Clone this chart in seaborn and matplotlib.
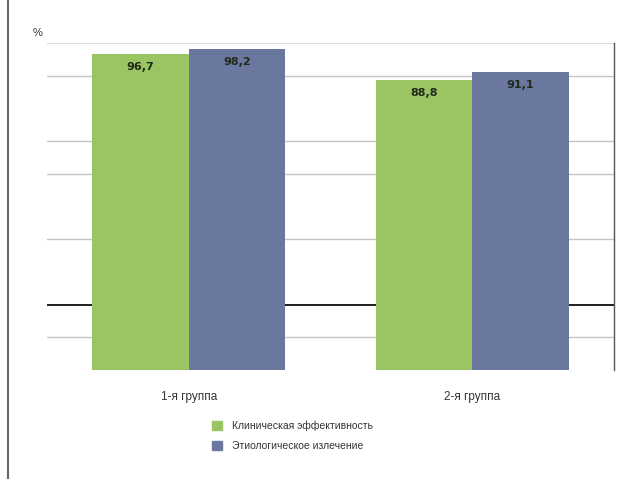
import matplotlib
matplotlib.use("Agg")
import matplotlib.pyplot as plt
from matplotlib.lines import Line2D
import seaborn as sns
import pandas as pd

# Chart data
groups = ["1-я группа", "2-я группа"]
series = ["Клиническая эффективность", "Этиологическое излечение"]
clinical = [96.7, 88.8]
etiological = [98.2, 91.1]
grid_levels = [10, 40, 60, 70, 90]
top_level = 100
base_level = 20

colors = ["#9bc463", "#6a779f"]

df = pd.DataFrame({
    "group": groups * 2,
    "series": [series[0]] * 2 + [series[1]] * 2,
    "value": clinical + etiological,
})

sns.set_theme(style="white")
plt.rcParams["font.family"] = ["Liberation Sans", "DejaVu Sans"]

fig = plt.figure(figsize=(6.3, 4.79), dpi=100)
ax = fig.add_axes([47 / 630, 1 - 370 / 479, 567 / 630, 327 / 479])

for lvl in grid_levels:
    ax.axhline(lvl, color="#c4c4c4", lw=1.0, zorder=0)
ax.axhline(top_level, color="#dcdcdc", lw=1.0, zorder=0)
ax.axhline(base_level, color="#1e1e1e", lw=1.4, zorder=0)

sns.barplot(data=df, x="group", y="value", hue="series", order=groups,
            hue_order=series, palette=colors, width=0.68, saturation=1,
            ax=ax, legend=False, zorder=2, linewidth=0)

ax.set_ylim(0, 100)
ax.set_xlim(-0.5, 1.5)
ax.set_yticks([])
ax.set_xlabel("")
ax.set_ylabel("")
ax.tick_params(axis="x", length=0, pad=15, labelsize=8.5, labelcolor="#333333")

for sp in ["top", "left", "bottom"]:
    ax.spines[sp].set_visible(False)
ax.spines["right"].set_color("#555555")
ax.spines["right"].set_linewidth(1.0)

values_by_series = [clinical, etiological]
for cont, vals in zip(ax.containers, values_by_series):
    labels = [f"{v:.1f}".replace(".", ",") for v in vals]
    ax.bar_label(cont, labels=labels, padding=-13, fontsize=8,
                 fontweight="bold", color="#1f2a1a", family="DejaVu Sans")

fig.text(38 / 630, 1 - 33 / 479, "%", fontsize=8, color="#333333",
         ha="center", va="center")

handles = [plt.Rectangle((0, 0), 1, 1, color=c) for c in colors]
fig.legend(handles, series, loc="upper left",
           bbox_to_anchor=(203 / 630, 1 - 411 / 479), frameon=False,
           fontsize=7.5, handlelength=0.9, handleheight=0.9,
           handletextpad=1.0, labelspacing=0.95, labelcolor="#333333")

# page frame line on the left
fig.add_artist(Line2D([8 / 630, 8 / 630], [0, 1], transform=fig.transFigure,
                      color="#666666", lw=1.5))

fig.savefig("out.png", dpi=100)
